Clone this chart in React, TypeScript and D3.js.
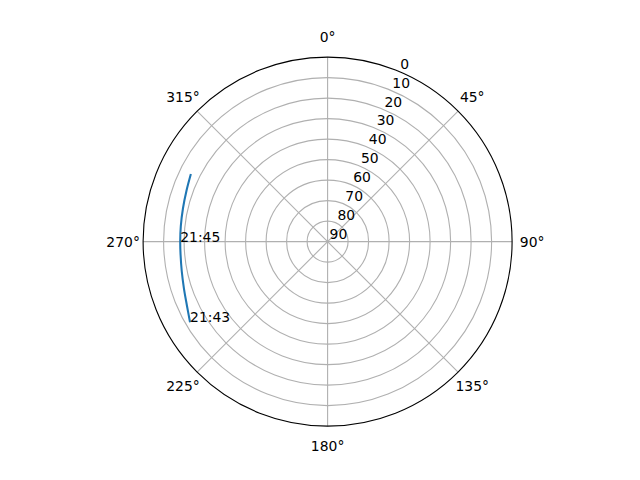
import * as d3 from 'd3';
import { FC } from 'react';

// pass track: azimuth (deg, clockwise from north) and elevation (deg)
const azimuths = [239.6, 245.5, 252, 258.5, 265, 270, 276, 283, 290, 296.3];
const elevations = [12.2, 14.6, 16.3, 17.4, 18.0, 18.1, 18.0, 17.6, 16.8, 15.6];

const timeLabels = ['21:43', '21:45'];
const timeLabelIndex = [0, 5];

const angleTicks = [0, 45, 90, 135, 180, 225, 270, 315];
const radialTicks = [0, 10, 20, 30, 40, 50, 60, 70, 80, 90];

const width = 640;
const height = 480;
const cx = 327.6;
const cy = 241.6;
const R = 184.5;
const font = '"DejaVu Sans", sans-serif';

const App: FC = () => {
  const rScale = d3.scaleLinear().domain([0, 90]).range([R, 0]);
  const toRad = (deg: number) => (deg * Math.PI) / 180;

  const points = azimuths.map((az, i) => ({ az, el: elevations[i] }));

  const line = d3
    .lineRadial<{ az: number; el: number }>()
    .angle((d) => toRad(d.az))
    .radius((d) => rScale(d.el))
    .curve(d3.curveCatmullRom);

  const polar = (deg: number, r: number) => [
    r * Math.sin(toRad(deg)),
    -r * Math.cos(toRad(deg)),
  ];

  const rLabelAngle = 22.5;

  return (
    <svg
      width={width}
      height={height}
      style={{ position: 'absolute', left: 0, top: 0, background: '#fff' }}
    >
      <g transform={`translate(${cx},${cy})`}>
        {/* rings */}
        {radialTicks
          .filter((t) => t > 0 && t < 90)
          .map((t) => (
            <circle
              key={`ring-${t}`}
              r={rScale(t)}
              fill="none"
              stroke="#b0b0b0"
              strokeWidth={1.1}
            />
          ))}
        {/* spokes */}
        {angleTicks.map((a) => {
          const [x, y] = polar(a, R);
          return (
            <line
              key={`spoke-${a}`}
              x1={0}
              y1={0}
              x2={x}
              y2={y}
              stroke="#b0b0b0"
              strokeWidth={1.1}
            />
          );
        })}
        {/* outer spine */}
        <circle r={R} fill="none" stroke="#000" strokeWidth={1.1} />

        {/* angle labels */}
        {angleTicks.map((a) => {
          const [x, y] = polar(a, R + 20);
          return (
            <text
              key={`alab-${a}`}
              x={x}
              y={y + 5}
              textAnchor="middle"
              fontFamily={font}
              fontSize={13.9}
              fill="#000"
            >
              {`${a}°`}
            </text>
          );
        })}

        {/* radial labels */}
        {radialTicks.map((t) => {
          const [x, y] = polar(rLabelAngle, rScale(t));
          return (
            <text
              key={`rlab-${t}`}
              x={x + 2}
              y={y - 2.5}
              textAnchor="start"
              fontFamily={font}
              fontSize={13.9}
              fill="#000"
            >
              {t}
            </text>
          );
        })}

        {/* track */}
        <path d={line(points) ?? ''} fill="none" stroke="#1f77b4" strokeWidth={2.08} />

        {timeLabels.map((lab, i) => {
          const p = points[timeLabelIndex[i]];
          const [x, y] = polar(p.az, rScale(p.el));
          return (
            <text
              key={`tlab-${lab}`}
              x={x}
              y={y}
              fontFamily={font}
              fontSize={13.9}
              fill="#000"
            >
              {lab}
            </text>
          );
        })}
      </g>
    </svg>
  );
};

export default App;
